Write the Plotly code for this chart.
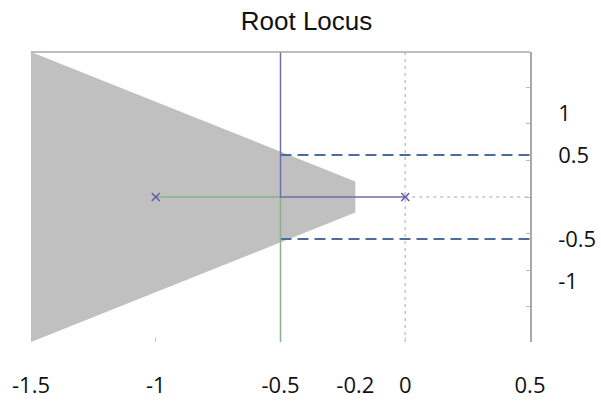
import plotly.graph_objects as go

# Open-loop poles of the system
pole_re = [-1.0, 0.0]
pole_im = [0.0, 0.0]

# Axis limits (real and imaginary parts)
x_limits = [-1.5, 0.5]
y_limits = [-1.73, 1.73]

# Root-locus branches: each pole moves along the real axis to the
# breakaway point at -0.5, then leaves along the vertical line
branch_a_re = [-1.0, -0.5, -0.5]
branch_a_im = [0.0, 0.0, -1.73]
branch_b_re = [0.0, -0.5, -0.5]
branch_b_im = [0.0, 0.0, 1.73]

# Design region (damping / settling-time constraint) shaded in grey
region_re = [-1.5, -0.2, -0.2, -1.5]
region_im = [1.73, 0.185, -0.185, -1.73]

# Damped-frequency bounds drawn as dashed lines
wd_re = [-0.5, 0.5]
wd_upper = [0.5, 0.5]
wd_lower = [-0.5, -0.5]

# Imaginary axis and positive real axis (dotted guides)
imag_axis_re = [0.0, 0.0]
imag_axis_im = [-1.73, 1.73]
real_axis_re = [0.0, 0.5]
real_axis_im = [0.0, 0.0]

# Tick labels
x_ticks = [-1.5, -1, -0.5, -0.2, 0, 0.5]
x_ticklabels = ["-1.5", "-1", "-0.5", "-0.2", "0", "0.5"]
y_ticks = [1, 0.5, -0.5, -1]
y_ticklabels = ["1", "0.5", "-0.5", "-1"]

PURPLE = "#6e6ea8"
GREEN = "#86b486"
DASH_BLUE = "#4a6c9e"
GUIDE = "#c4c4c4"

fig = go.Figure()

fig.add_trace(go.Scatter(
    x=region_re, y=region_im, mode="lines", fill="toself",
    fillcolor="#c0c0c0", line=dict(width=0), hoverinfo="skip",
))

fig.add_trace(go.Scatter(
    x=imag_axis_re, y=imag_axis_im, mode="lines",
    line=dict(color=GUIDE, width=1.5, dash="3px,4px"),
))
fig.add_trace(go.Scatter(
    x=real_axis_re, y=real_axis_im, mode="lines",
    line=dict(color=GUIDE, width=1.5, dash="3px,4px"),
))

fig.add_trace(go.Scatter(
    x=wd_re, y=wd_upper, mode="lines",
    line=dict(color=DASH_BLUE, width=2, dash="11px,6px"),
))
fig.add_trace(go.Scatter(
    x=wd_re, y=wd_lower, mode="lines",
    line=dict(color=DASH_BLUE, width=2, dash="11px,6px"),
))

fig.add_trace(go.Scatter(
    x=branch_a_re, y=branch_a_im, mode="lines",
    line=dict(color=GREEN, width=1.5),
))
fig.add_trace(go.Scatter(
    x=branch_b_re, y=branch_b_im, mode="lines",
    line=dict(color=PURPLE, width=1.5),
))

fig.add_trace(go.Scatter(
    x=pole_re, y=pole_im, mode="markers",
    marker=dict(symbol="x-thin", size=8, line=dict(color="#5c5ca8", width=1.5)),
))

# Top border of the plotting box
fig.add_shape(type="line", xref="paper", yref="paper",
              x0=0, x1=1, y0=1, y1=1, line=dict(color="#a8a8a8", width=1.5))

fig.update_layout(
    width=601, height=402,
    margin=dict(l=31, r=71, t=52, b=60),
    paper_bgcolor="white", plot_bgcolor="white",
    showlegend=False,
    title=dict(text="Root Locus", x=0.51, xanchor="center",
               y=1 - 21 / 402, yanchor="middle", yref="container",
               font=dict(family="Liberation Sans, Arial", size=26, color="#111111")),
    xaxis=dict(
        range=x_limits, showgrid=False, zeroline=False, showline=False,
        automargin=False,
        tickmode="array", tickvals=x_ticks, ticktext=x_ticklabels,
        ticks="", ticklabelstandoff=28,
        tickfont=dict(family="Open Sans", size=22, color="#111111"),
        minor=dict(tickmode="array", tickvals=[-1, 0], ticks="inside",
                   ticklen=5, tickcolor="#c8c8c8"),
        mirror="ticks",
    ),
    yaxis=dict(
        range=y_limits, side="right", showgrid=False, zeroline=False,
        showline=True, linecolor="#a8a8a8", linewidth=1.5,
        automargin=False,
        tickmode="array", tickvals=y_ticks, ticktext=y_ticklabels,
        ticks="", ticklabelstandoff=22,
        tickfont=dict(family="Open Sans", size=22, color="#111111"),
        minor=dict(tick0=0, dtick=0.437, ticks="inside",
                   ticklen=4, tickcolor="#b8b8b8"),
    ),
)

fig.write_html("out.html")
